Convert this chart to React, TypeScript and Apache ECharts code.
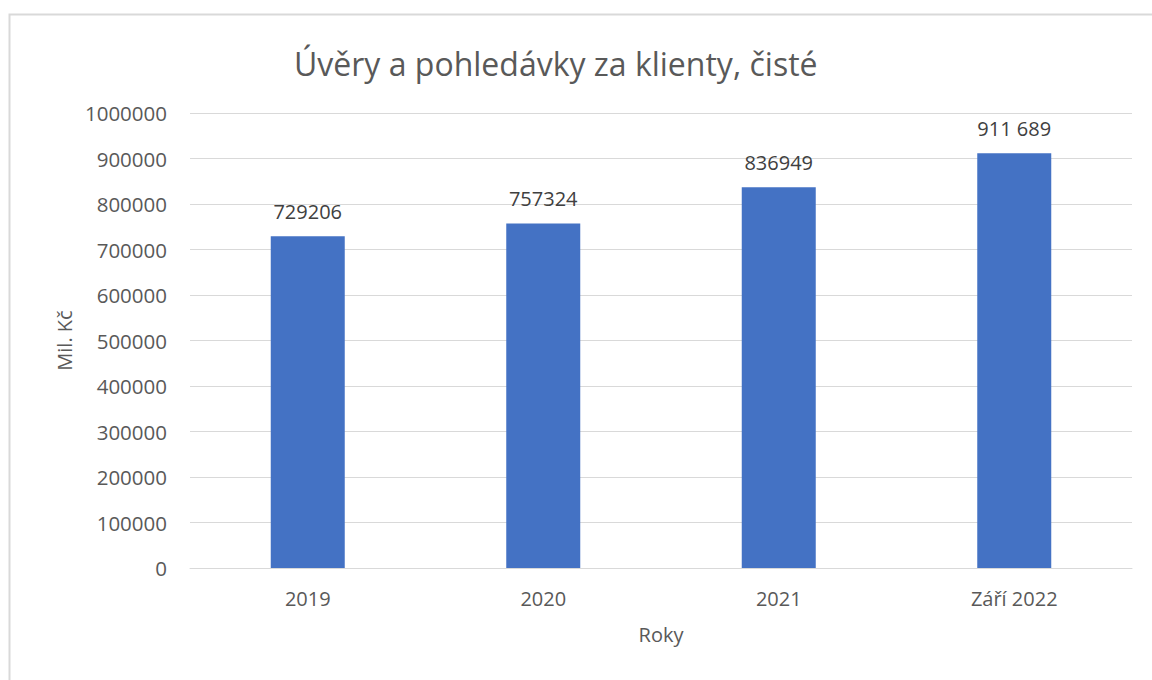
import React, { useEffect, useRef } from "react";
import * as echarts from "echarts";

const categories = ["2019", "2020", "2021", "Září 2022"];
const values = [729206, 757324, 836949, 911689];
const valueLabels = ["729206", "757324", "836949", "911 689"];
const titleText = "Úvěry a pohledávky za klienty, čisté";
const yAxisName = "Mil. Kč";
const xAxisName = "Roky";

const FONT = "Open Sans";
const TXT = "#595959";

export default function App() {
  const ref = useRef<HTMLDivElement>(null);
  useEffect(() => {
    if (!ref.current) return;
    const chart = echarts.init(ref.current, null, { renderer: "svg" });
    chart.setOption({
      animation: false,
      backgroundColor: "#ffffff",
      textStyle: { fontFamily: FONT },
      title: {
        text: titleText,
        left: 289,
        top: 42,
        textStyle: { fontFamily: FONT, fontSize: 32, fontWeight: "normal", color: TXT },
      },
      graphic: [
        {
          type: "rect",
          shape: { x: 9.5, y: 14.5, width: 1200, height: 700 },
          style: { fill: "none", stroke: "#d9d9d9", lineWidth: 2 },
          silent: true,
        },
      ],
      grid: { left: 190, right: 20, top: 113, bottom: 112, containLabel: false },
      xAxis: {
        type: "category",
        data: categories,
        axisLine: { show: true, lineStyle: { color: "#d9d9d9", width: 1 } },
        axisTick: { show: false },
        axisLabel: { color: TXT, fontSize: 20, fontFamily: FONT, margin: 20 },
        name: xAxisName,
        nameLocation: "middle",
        nameGap: 56,
        nameTextStyle: { color: TXT, fontSize: 20, fontFamily: FONT },
      },
      yAxis: {
        type: "value",
        min: 0,
        max: 1000000,
        interval: 100000,
        axisLine: { show: false },
        axisTick: { show: false },
        splitLine: { lineStyle: { color: "#d9d9d9", width: 1 } },
        axisLabel: {
          color: TXT,
          fontSize: 20.5,
          fontFamily: FONT,
          margin: 23,
          formatter: (v: number) => String(v),
        },
        name: yAxisName,
        nameLocation: "middle",
        nameGap: 114,
        nameRotate: 90,
        nameTextStyle: { color: TXT, fontSize: 20, fontFamily: FONT },
      },
      series: [
        {
          type: "bar",
          data: values,
          barWidth: 74,
          itemStyle: { color: "#4472C4" },
          label: {
            show: true,
            position: "top",
            distance: 15,
            color: "#404040",
            fontSize: 20,
            fontFamily: FONT,
            formatter: (p: any) => valueLabels[p.dataIndex],
          },
        },
      ],
    });
    return () => chart.dispose();
  }, []);
  return (
    <div
      ref={ref}
      style={{ position: "absolute", left: 0, top: 0, width: 1152, height: 680 }}
    />
  );
}
